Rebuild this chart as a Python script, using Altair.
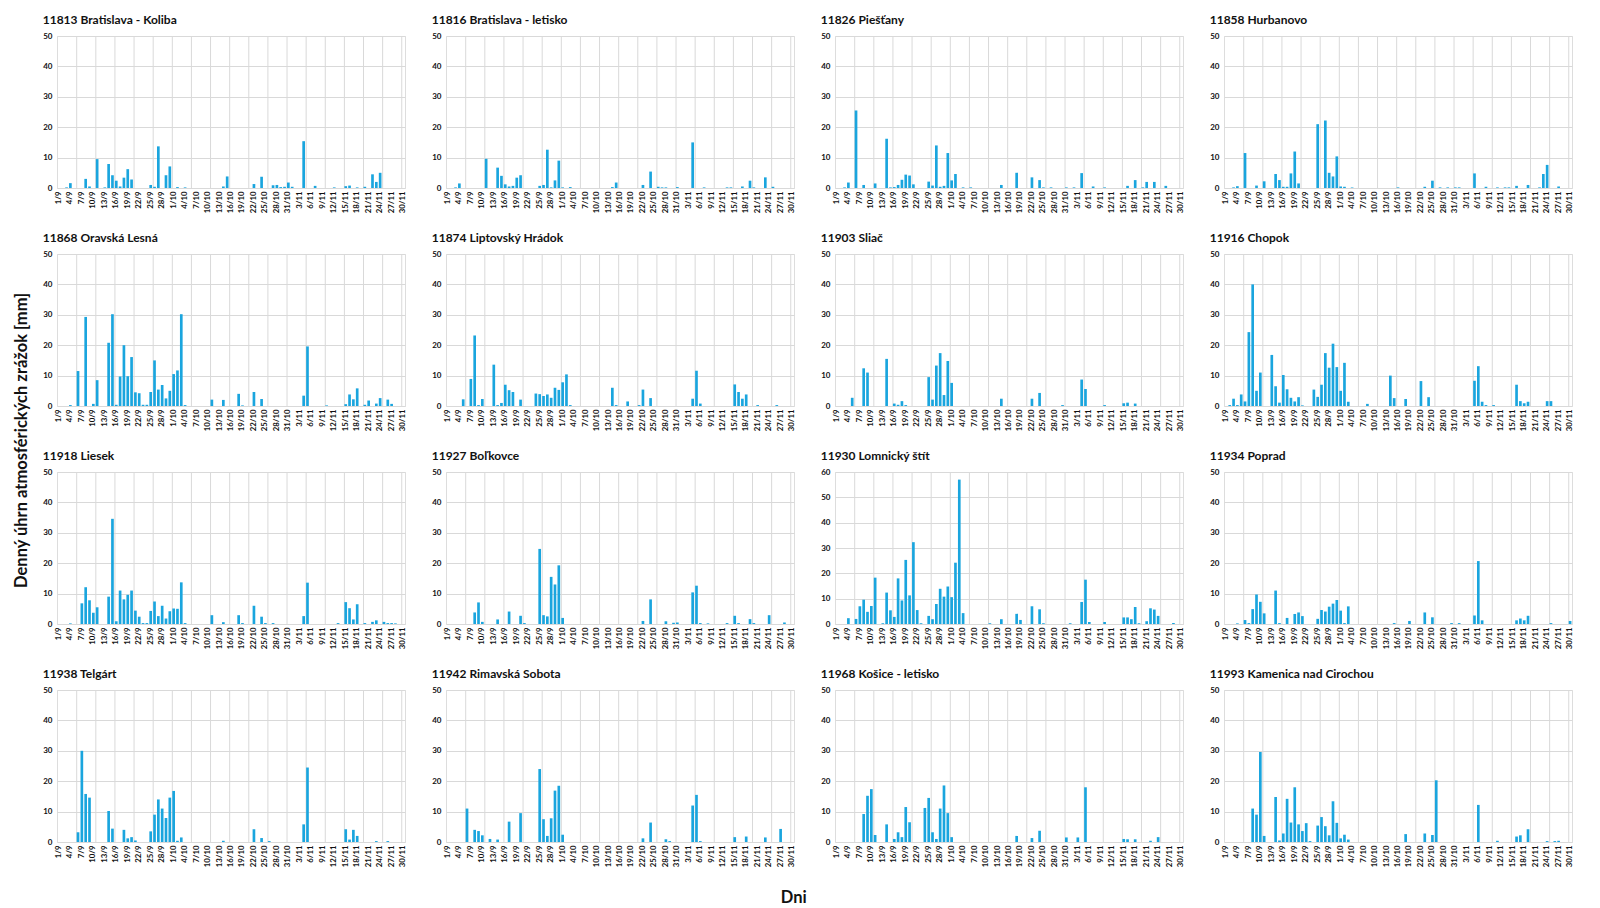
import altair as alt
import pandas as pd

# Day categories 1/9 ... 30/11 (index 0 = 1/9)
DATES = ([f"{d}/9" for d in range(1, 31)] + [f"{d}/10" for d in range(1, 32)]
         + [f"{d}/11" for d in range(1, 31)])
TICK_LABELS = DATES[::3]
GRID_DATES = DATES[5::5]

# Daily precipitation [mm], keyed by day index (days not listed = 0)
KOLIBA = {2: 0.2, 3: 1.6, 7: 3.0, 8: 0.5, 10: 9.5, 12: 0.2, 13: 7.9, 14: 4.2, 15: 2.4, 16: 0.5, 17: 3.4,
          18: 6.2, 19: 2.8, 24: 1.0, 25: 0.4, 26: 13.7, 28: 4.2, 29: 7.1, 31: 0.3, 33: 0.2, 43: 0.5, 44: 3.8,
          51: 1.3, 53: 3.7, 56: 0.9, 57: 1.0, 58: 0.3, 59: 0.4, 60: 1.8, 61: 0.4, 64: 15.4, 67: 0.7, 72: 0.2,
          75: 0.6, 76: 0.8, 78: 0.2, 80: 0.4, 82: 4.5, 83: 2.0, 84: 5.0}
LETISKO = {2: 0.2, 3: 1.5, 10: 9.6, 13: 6.7, 14: 4.0, 15: 1.2, 16: 0.5, 17: 0.7, 18: 3.4, 19: 4.2, 24: 0.7,
           25: 1.0, 26: 12.6, 27: 0.2, 28: 2.5, 29: 9.0, 30: 0.2, 32: 0.3, 43: 0.3, 44: 1.8, 51: 1.0, 53: 5.4,
           55: 0.4, 56: 0.2, 57: 0.2, 60: 0.3, 64: 15.0, 67: 0.2, 73: 0.2, 74: 0.2, 77: 0.5, 79: 2.4, 80: 0.2,
           83: 3.5, 85: 0.4}
PIESTANY = {2: 0.2, 3: 1.8, 5: 25.5, 7: 1.0, 10: 1.5, 13: 16.2, 14: 0.2, 15: 0.3, 16: 1.0, 17: 2.7, 18: 4.4,
            19: 4.1, 20: 1.2, 24: 2.1, 25: 0.8, 26: 14.0, 27: 0.4, 28: 0.7, 29: 11.5, 30: 2.5, 31: 4.6,
            33: 0.2, 35: 0.2, 43: 1.0, 47: 5.0, 51: 3.5, 53: 2.6, 54: 0.2, 56: 0.2, 60: 0.2, 62: 0.2,
            64: 4.9, 67: 0.5, 70: 0.2, 76: 0.7, 78: 2.6, 80: 0.2, 81: 2.0, 83: 2.0, 86: 0.7}
HURBANOVO = {2: 0.2, 3: 0.6, 5: 11.5, 8: 0.8, 10: 2.2, 13: 4.6, 14: 2.6, 15: 0.4, 16: 0.4, 17: 4.8, 18: 12.0,
             19: 1.5, 24: 21.0, 26: 22.2, 27: 5.0, 28: 3.8, 29: 10.4, 30: 0.5, 31: 0.4, 33: 0.2, 45: 0.2,
             52: 0.4, 54: 2.4, 56: 0.2, 58: 0.2, 60: 0.2, 61: 0.2, 65: 4.8, 68: 0.4, 71: 0.2, 73: 0.2,
             74: 0.2, 76: 0.7, 79: 1.0, 82: 0.2, 83: 4.6, 84: 7.6, 87: 0.5}
ORAVSKA = {3: 0.3, 5: 11.5, 7: 29.3, 9: 0.7, 10: 8.5, 13: 20.8, 14: 30.2, 15: 0.4, 16: 9.7, 17: 20.0, 18: 9.8,
           19: 16.1, 20: 4.5, 21: 4.2, 22: 0.4, 23: 0.4, 24: 4.6, 25: 15.0, 26: 5.4, 27: 6.9, 28: 2.5,
           29: 5.0, 30: 10.5, 31: 11.7, 32: 30.2, 33: 0.3, 40: 2.1, 43: 2.0, 47: 4.0, 48: 0.2, 51: 4.6,
           53: 2.3, 64: 3.4, 65: 19.6, 70: 0.2, 75: 0.6, 76: 3.8, 77: 2.2, 78: 5.8, 80: 0.4, 81: 1.8,
           83: 0.8, 84: 2.6, 86: 2.1, 87: 0.7}
LIPTOV = {4: 2.2, 6: 8.9, 7: 23.2, 8: 0.3, 9: 2.3, 12: 13.6, 13: 0.3, 14: 1.0, 15: 7.0, 16: 5.2, 17: 4.6,
          19: 2.1, 23: 4.1, 24: 3.9, 25: 3.3, 26: 3.8, 27: 2.7, 28: 6.0, 29: 5.3, 30: 7.8, 31: 10.4, 32: 0.3,
          43: 6.0, 44: 0.3, 47: 1.5, 50: 0.3, 51: 5.4, 53: 2.6, 64: 2.4, 65: 11.6, 66: 0.8, 75: 7.1, 76: 4.6,
          77: 2.4, 78: 3.8, 81: 0.3, 86: 0.3}
SLIAC = {4: 2.7, 7: 12.4, 8: 11.0, 13: 15.5, 15: 0.8, 16: 0.4, 17: 1.6, 18: 0.3, 24: 9.5, 25: 2.1, 26: 13.3,
         27: 17.4, 28: 3.6, 29: 14.8, 30: 7.6, 43: 2.4, 51: 2.4, 53: 4.3, 59: 0.3, 64: 8.7, 65: 5.6, 70: 0.3,
         75: 0.9, 76: 1.1, 78: 0.8}
CHOPOK = {1: 0.3, 2: 2.4, 3: 0.3, 4: 3.8, 5: 1.5, 6: 24.3, 7: 40.0, 8: 5.0, 9: 11.0, 12: 16.8, 13: 6.5,
          14: 1.1, 15: 10.2, 16: 5.5, 17: 2.7, 18: 1.5, 19: 2.9, 20: 0.2, 23: 5.4, 24: 3.0, 25: 7.0, 26: 17.4,
          27: 12.6, 28: 20.5, 29: 12.8, 30: 5.0, 31: 14.2, 32: 1.4, 37: 0.7, 43: 10.0, 44: 2.6, 47: 2.3,
          51: 8.2, 53: 2.9, 65: 8.3, 66: 13.1, 67: 1.4, 68: 0.3, 70: 0.3, 76: 7.0, 77: 1.6, 78: 0.9, 79: 1.4,
          84: 1.6, 85: 1.6}
LIESEK = {3: 0.2, 6: 6.8, 7: 12.1, 8: 7.8, 9: 3.7, 10: 5.5, 13: 9.0, 14: 34.6, 15: 0.9, 16: 11.0, 17: 8.1,
          18: 9.6, 19: 11.0, 20: 4.4, 21: 2.4, 22: 0.3, 23: 0.3, 24: 4.3, 25: 7.4, 26: 2.6, 27: 6.0, 28: 1.8,
          29: 4.2, 30: 5.1, 31: 5.0, 32: 13.7, 33: 0.3, 40: 2.9, 43: 0.6, 47: 2.9, 48: 0.3, 51: 6.0, 53: 2.4,
          54: 0.3, 56: 0.3, 64: 2.6, 65: 13.6, 73: 0.3, 75: 7.2, 76: 5.2, 77: 1.5, 78: 6.5, 80: 0.3, 82: 0.7,
          83: 1.2, 85: 0.7, 86: 0.3, 87: 0.3, 88: 0.2}
BOLKOVCE = {7: 3.8, 8: 7.1, 9: 0.7, 13: 1.5, 16: 4.1, 19: 2.7, 20: 0.3, 24: 24.7, 25: 2.9, 26: 2.5, 27: 15.5,
            28: 13.0, 29: 19.3, 30: 2.0, 51: 1.0, 53: 8.1, 57: 0.9, 59: 0.4, 60: 0.5, 64: 10.4, 65: 12.6,
            66: 0.3, 68: 0.2, 73: 0.3, 75: 2.7, 76: 0.3, 79: 1.6, 80: 0.3, 84: 2.9, 88: 0.5}
LOMNICKY = {3: 2.3, 5: 2.0, 6: 7.0, 7: 9.6, 8: 4.8, 9: 7.1, 10: 18.3, 12: 0.3, 13: 12.4, 14: 5.4, 15: 2.8,
            16: 18.0, 17: 9.3, 18: 25.3, 19: 11.3, 20: 32.3, 21: 5.5, 22: 0.3, 24: 3.2, 25: 1.9, 26: 7.9,
            27: 13.9, 28: 10.8, 29: 14.8, 30: 10.6, 31: 24.2, 32: 57.0, 33: 4.3, 40: 0.3, 43: 1.9, 47: 4.0,
            48: 1.6, 51: 7.0, 53: 5.8, 54: 0.3, 61: 0.3, 64: 8.7, 65: 17.5, 66: 0.8, 70: 0.8, 75: 2.6,
            76: 2.6, 77: 1.9, 78: 6.7, 79: 0.3, 81: 1.1, 82: 6.2, 83: 5.7, 84: 3.2, 88: 0.4}
POPRAD = {3: 0.2, 5: 1.3, 6: 0.3, 7: 4.9, 8: 9.7, 9: 7.3, 10: 3.5, 13: 11.0, 14: 0.3, 16: 2.0, 18: 3.3,
          19: 3.8, 20: 2.6, 24: 1.7, 25: 4.6, 26: 4.1, 27: 5.7, 28: 6.7, 29: 7.9, 30: 4.4, 31: 0.3, 32: 5.8,
          44: 0.3, 48: 1.0, 52: 3.8, 54: 2.2, 59: 0.3, 61: 0.3, 65: 2.8, 66: 20.7, 67: 1.2, 76: 1.2, 77: 1.8,
          78: 1.2, 79: 2.7, 85: 0.3, 90: 1.0}
TELGART = {5: 3.2, 6: 30.0, 7: 15.8, 8: 14.6, 13: 10.2, 14: 4.4, 17: 4.0, 18: 1.2, 19: 1.6, 20: 0.5, 24: 3.5,
           25: 9.0, 26: 14.0, 27: 11.0, 28: 7.9, 29: 14.6, 30: 16.8, 31: 0.4, 32: 1.5, 43: 0.4, 51: 4.2,
           53: 1.3, 55: 0.3, 64: 5.8, 65: 24.5, 75: 4.2, 76: 0.8, 77: 4.0, 78: 2.0, 83: 0.3, 86: 0.3}
RIMAVSKA = {5: 11.0, 7: 4.0, 8: 3.6, 9: 2.2, 11: 1.0, 13: 0.8, 16: 6.7, 19: 9.5, 24: 24.0, 25: 7.5, 26: 2.0,
            27: 7.8, 28: 16.9, 29: 18.5, 30: 2.4, 51: 1.2, 53: 6.4, 57: 0.9, 58: 0.3, 64: 12.0, 65: 15.5,
            66: 0.3, 75: 1.6, 78: 1.8, 83: 1.5, 87: 4.3}
KOSICE = {7: 9.2, 8: 15.2, 9: 17.4, 10: 2.3, 13: 5.8, 15: 1.0, 16: 3.2, 17: 1.6, 18: 11.5, 19: 6.5, 23: 11.2,
          24: 14.5, 25: 3.2, 26: 1.0, 27: 11.0, 28: 18.6, 29: 9.5, 30: 1.6, 47: 2.0, 51: 1.3, 53: 3.7,
          60: 1.5, 63: 1.5, 65: 18.0, 75: 1.0, 76: 0.9, 78: 0.9, 82: 0.4, 84: 1.6}
KAMENICA = {7: 11.0, 8: 9.0, 9: 29.6, 10: 2.0, 13: 14.8, 14: 0.5, 15: 2.8, 16: 14.2, 17: 6.4, 18: 18.0,
            19: 5.8, 20: 3.6, 21: 6.2, 22: 0.3, 24: 5.4, 25: 8.2, 26: 5.2, 27: 2.2, 28: 13.4, 29: 6.3,
            30: 1.2, 31: 2.4, 32: 0.8, 47: 2.6, 52: 2.8, 54: 2.3, 55: 20.3, 66: 12.2, 71: 0.4, 76: 1.8,
            77: 2.2, 79: 4.2, 84: 0.3, 86: 0.3, 87: 0.4}

STATIONS = [
    ("11813 Bratislava - Koliba", KOLIBA, 50),
    ("11816 Bratislava - letisko", LETISKO, 50),
    ("11826 Piešťany", PIESTANY, 50),
    ("11858 Hurbanovo", HURBANOVO, 50),
    ("11868 Oravská Lesná", ORAVSKA, 50),
    ("11874 Liptovský Hrádok", LIPTOV, 50),
    ("11903 Sliač", SLIAC, 50),
    ("11916 Chopok", CHOPOK, 50),
    ("11918 Liesek", LIESEK, 50),
    ("11927 Boľkovce", BOLKOVCE, 50),
    ("11930 Lomnický štít", LOMNICKY, 60),
    ("11934 Poprad", POPRAD, 50),
    ("11938 Telgárt", TELGART, 50),
    ("11942 Rimavská Sobota", RIMAVSKA, 50),
    ("11968 Košice - letisko", KOSICE, 50),
    ("11993 Kamenica nad Cirochou", KAMENICA, 50),
]

FONT = "Lato"
BAR_COLOR = "#1AA5DE"
GRID_COLOR = "#d9d9d9"
TEXT = "#111111"


def panel(title, rain, ymax):
    df = pd.DataFrame({"den": DATES, "mm": [rain.get(i, 0.0) for i in range(len(DATES))]})
    xscale = alt.Scale(domain=DATES, paddingInner=0.3, paddingOuter=0.15)
    xaxis = alt.Axis(values=TICK_LABELS, labelAngle=-90, ticks=False, domain=False, grid=False,
                     labelFont=FONT, labelFontSize=7.8, labelFontWeight="bold", labelColor=TEXT,
                     labelPadding=3, labelOverlap=False, title=None)
    grid = alt.Chart(pd.DataFrame({"den": GRID_DATES})).mark_rule(
        color=GRID_COLOR, strokeWidth=1).encode(
        x=alt.X("den:N", scale=xscale, bandPosition=0, axis=xaxis))
    bars = alt.Chart(df).mark_bar(color=BAR_COLOR).encode(
        x=alt.X("den:N", scale=xscale, axis=xaxis),
        y=alt.Y("mm:Q", scale=alt.Scale(domain=[0, ymax], nice=False),
                axis=alt.Axis(values=list(range(0, ymax + 1, 10)), ticks=False, domain=False,
                              grid=True, gridColor=GRID_COLOR, labelFont=FONT, labelFontSize=8,
                              labelFontWeight="bold", labelColor=TEXT, labelPadding=5, title=None)),
        tooltip=["den:N", "mm:Q"],
    )
    return alt.layer(grid, bars).properties(
        width=348, height=152,
        title=alt.TitleParams(title, anchor="start", font=FONT, fontSize=12, fontWeight="bold",
                              color=TEXT, offset=5),
    )


rows = []
for r in range(4):
    rows.append(alt.hconcat(*[panel(*STATIONS[r * 4 + c]) for c in range(4)], spacing=24))

body = alt.vconcat(*rows, spacing=17,
                   title=alt.TitleParams("Denný úhrn atmosférických zrážok [mm]", orient="left",
                                         anchor="middle", font=FONT, fontSize=16.5, fontWeight="bold",
                                         color=TEXT, offset=12))

chart = alt.vconcat(body, title=alt.TitleParams("Dni", orient="bottom", anchor="middle", font=FONT,
                                                fontSize=16.5, fontWeight="bold", color=TEXT, offset=23)
                    ).configure_view(stroke="#868686", strokeWidth=1).configure(background="white")

chart.save("out.html", embed_options={"renderer": "svg", "actions": False})
